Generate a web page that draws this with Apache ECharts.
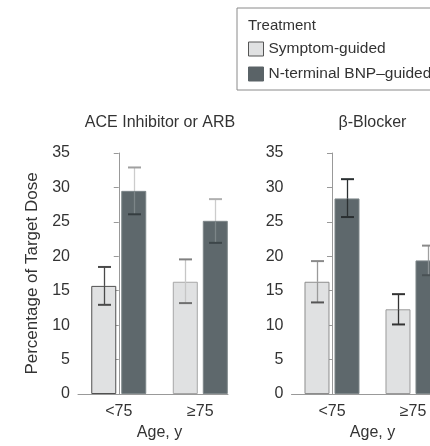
<!DOCTYPE html>
<html>
<head>
<meta charset="utf-8">
<script src="https://cdn.jsdelivr.net/npm/echarts@6/dist/echarts.min.js"></script>
<style>
  html, body { margin: 0; padding: 0; background: #fff; }
  #chart { width: 430px; height: 446px; }
</style>
</head>
<body>
<div id="chart"></div>
<script>
// Age groups and labels
const ageGroups = ['<75', '≥75'];
const panelTitles = ['ACE Inhibitor or ARB', 'β-Blocker'];
const seriesNames = ['Symptom-guided', 'N-terminal BNP–guided'];
const legendTitle = 'Treatment';
const yAxisTitle = 'Percentage of Target Dose';
const xAxisTitle = 'Age, y';

// ACE inhibitor or ARB: mean % of target dose with lower / upper error bounds
const aceSymptomMean = [15.7, 16.3];
const aceSymptomLow = [12.95, 13.2];
const aceSymptomHigh = [18.45, 19.55];
const aceBnpMean = [29.5, 25.15];
const aceBnpLow = [26.1, 21.95];
const aceBnpHigh = [32.9, 28.3];

// β-blocker
const betaSymptomMean = [16.3, 12.3];
const betaSymptomLow = [13.3, 10.1];
const betaSymptomHigh = [19.3, 14.5];
const betaBnpMean = [28.4, 19.4];
const betaBnpLow = [25.7, 17.25];
const betaBnpHigh = [31.2, 21.55];

// Y axis range
const yMin = 0;
const yMax = 35;
const yStep = 5;

// ---- styling ----
const TEXT = '#333';
const AXIS = '#999';
const LIGHT = '#e0e1e2';
const DARK = '#5e686c';
const FONT = 'Liberation Sans';

const chart = echarts.init(document.getElementById('chart'), null, { renderer: 'canvas' });

function barSeries(panel, name, means, fill, borders) {
  return {
    type: 'bar',
    name: name,
    xAxisIndex: panel,
    yAxisIndex: panel,
    barWidth: 25,
    barGap: '20%',
    z: 2,
    itemStyle: { color: fill, borderWidth: 1, borderColor: borders[0] },
    emphasis: { disabled: true },
    data: means.map((m, i) => ({ value: [i, m], itemStyle: { borderColor: borders[i] } }))
  };
}

function errorSeries(panel, name, means, lows, highs, offset, colors) {
  return {
    type: 'custom',
    name: name,
    xAxisIndex: panel,
    yAxisIndex: panel,
    z: 5,
    silent: true,
    data: means.map((m, i) => [i, lows[i], highs[i], m]),
    encode: { x: 0, y: [1, 2] },
    renderItem(params, api) {
      const i = api.value(0);
      const lo = api.coord([i, api.value(1)]);
      const hi = api.coord([i, api.value(2)]);
      const mid = api.coord([i, api.value(3)]);
      const x = Math.round(lo[0] + offset) + 0.5;
      const c = colors[params.dataIndex];
      const half = 6.5;
      return {
        type: 'group',
        children: [
          { type: 'line', shape: { x1: x, y1: hi[1], x2: x, y2: mid[1] }, style: { stroke: c.above, lineWidth: 1.3 } },
          { type: 'line', shape: { x1: x, y1: mid[1], x2: x, y2: lo[1] }, style: { stroke: c.inside, lineWidth: 1.3 } },
          { type: 'line', shape: { x1: x - half, y1: hi[1], x2: x + half, y2: hi[1] }, style: { stroke: c.top, lineWidth: 2 } },
          { type: 'line', shape: { x1: x - half, y1: lo[1], x2: x + half, y2: lo[1] }, style: { stroke: c.bottom, lineWidth: 2 } }
        ]
      };
    }
  };
}

function solid(c) { return { above: c, inside: c, top: c, bottom: c }; }

const gridTop = 153;
const gridHeight = 244;

function xAxis(panel, max, nameShift) {
  return {
    type: 'value',
    gridIndex: panel,
    min: -0.5,
    max: max,
    axisLine: { show: true, lineStyle: { color: AXIS, width: 1 } },
    axisTick: { show: false },
    splitLine: { show: false },
    axisLabel: {
      customValues: [0, 1],
      formatter: v => ageGroups[Math.round(v)],
      fontSize: 16,
      color: TEXT,
      margin: 10,
      fontFamily: FONT
    },
    name: xAxisTitle,
    nameLocation: 'middle',
    nameGap: 31,
    nameTextStyle: { fontSize: 16, color: TEXT, padding: [0, 0, 0, nameShift], fontFamily: FONT }
  };
}

function yAxis(panel, withName) {
  const ax = {
    type: 'value',
    gridIndex: panel,
    min: yMin,
    max: yMax,
    interval: yStep,
    axisLine: { show: true, lineStyle: { color: AXIS, width: 1 } },
    axisTick: { show: true, length: 5, lineStyle: { color: AXIS } },
    splitLine: { show: false },
    axisLabel: { fontSize: 16, color: TEXT, margin: 8, fontFamily: FONT }
  };
  if (withName) {
    ax.name = yAxisTitle;
    ax.nameLocation = 'middle';
    ax.nameGap = 37;
    ax.nameTextStyle = { fontSize: 17, color: TEXT, fontFamily: FONT };
  }
  return ax;
}

const option = {
  animation: false,
  backgroundColor: '#fff',
  textStyle: { fontFamily: FONT },
  title: [
    { text: legendTitle, left: 248, top: 18, padding: 0,
      textStyle: { fontSize: 15, fontWeight: 'normal', color: TEXT, fontFamily: FONT } },
    { text: panelTitles[0], left: 160, top: 115, padding: 0, textAlign: 'center',
      textStyle: { fontSize: 16, fontWeight: 'normal', color: TEXT, fontFamily: FONT } },
    { text: panelTitles[1], left: 372.5, top: 115, padding: 0, textAlign: 'center',
      textStyle: { fontSize: 16, fontWeight: 'normal', color: TEXT, fontFamily: FONT } }
  ],
  legend: {
    orient: 'vertical',
    left: 237,
    top: 8,
    padding: [33, 14, 8, 11],
    itemGap: 9,
    itemWidth: 15,
    itemHeight: 14,
    icon: 'rect',
    borderColor: '#8a8a8a',
    borderWidth: 1,
    selectedMode: false,
    textStyle: { fontSize: 15.5, color: TEXT, fontFamily: FONT },
    data: [
      { name: seriesNames[0], itemStyle: { color: LIGHT, borderColor: '#555', borderWidth: 1 } },
      { name: seriesNames[1], itemStyle: { color: '#5a6367', borderColor: '#5a6367', borderWidth: 1 } }
    ]
  },
  grid: [
    { left: 78, top: gridTop, width: 150, height: gridHeight },
    { left: 291.5, top: gridTop, width: 138.5, height: gridHeight }
  ],
  xAxis: [xAxis(0, 1.34, 13), xAxis(1, 1.21, 23.5)],
  yAxis: [yAxis(0, true), yAxis(1, false)],
  series: [
    barSeries(0, seriesNames[0], aceSymptomMean, LIGHT, ['#505050', '#a6a6a6']),
    barSeries(0, seriesNames[1], aceBnpMean, DARK, ['#7d8689', '#7d8689']),
    barSeries(1, seriesNames[0], betaSymptomMean, LIGHT, ['#8c8c8c', '#9a9a9a']),
    barSeries(1, seriesNames[1], betaBnpMean, DARK, ['#7d8689', '#7d8689']),
    errorSeries(0, seriesNames[0], aceSymptomMean, aceSymptomLow, aceSymptomHigh, -15, [
      solid('#4a4a4a'),
      { above: '#c6c6c6', inside: '#c6c6c6', top: '#808080', bottom: '#6f6f6f' }
    ]),
    errorSeries(0, seriesNames[1], aceBnpMean, aceBnpLow, aceBnpHigh, 15, [
      { above: '#cccccc', inside: '#7c8588', top: '#a0a0a0', bottom: '#353d40' },
      { above: '#cccccc', inside: '#7c8588', top: '#b0b0b0', bottom: '#3d4649' }
    ]),
    errorSeries(1, seriesNames[0], betaSymptomMean, betaSymptomLow, betaSymptomHigh, -15, [
      { above: '#9a9a9a', inside: '#9a9a9a', top: '#8a8a8a', bottom: '#555555' },
      solid('#333333')
    ]),
    errorSeries(1, seriesNames[1], betaBnpMean, betaBnpLow, betaBnpHigh, 15, [
      solid('#2a2f31'),
      { above: '#a0a0a0', inside: '#8a9194', top: '#8a8a8a', bottom: '#4a5255' }
    ])
  ]
};

chart.setOption(option);
</script>
</body>
</html>
